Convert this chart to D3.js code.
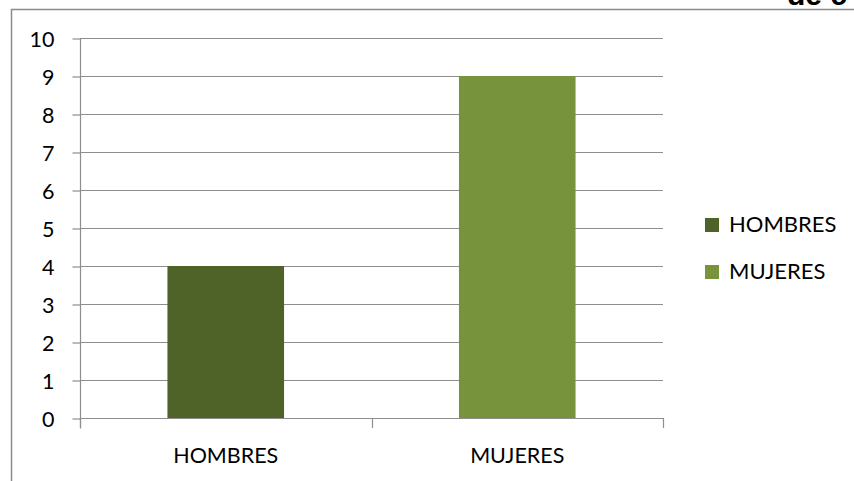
<!DOCTYPE html>
<html>
<head>
<meta charset="utf-8">
<script src="https://cdn.jsdelivr.net/npm/d3@7"></script>
<style>
  html, body { margin: 0; padding: 0; background: #fff; }
  svg { display: block; }
  text { font-family: Lato, "Open Sans", sans-serif; fill: #000; }
</style>
</head>
<body>
<svg id="chart" width="854" height="481"></svg>
<script>
const categories = ["HOMBRES", "MUJERES"];
const values = [4, 9];
const colors = ["#4F6228", "#77933C"];
const yTickValues = [0, 1, 2, 3, 4, 5, 6, 7, 8, 9, 10];
const headerFragment = "de c";

const svg = d3.select("#chart");
const W = 854, H = 481;
const plot = { left: 80, right: 663, top: 38, bottom: 418 };

// chart area border (left + top, rest cut off)
svg.append("path")
  .attr("d", `M11.5,${H} V9.5 H${W}`)
  .attr("fill", "none")
  .attr("stroke", "#8c8c8c")
  .attr("stroke-width", 1.5);

// cut-off header text (only its lower edge shows, as in the reference)
svg.append("text")
  .attr("x", 787).attr("y", 5)
  .style("font-family", "'Liberation Sans', Arial, sans-serif")
  .style("font-weight", "bold")
  .style("font-size", "30px")
  .text(headerFragment);

const x = d3.scaleBand().domain(categories).range([plot.left, plot.right]).padding(0);
const y = d3.scaleLinear().domain([0, 10]).range([plot.bottom, plot.top]);

// gridlines
svg.append("g").selectAll("line").data(yTickValues).join("line")
  .attr("x1", plot.left).attr("x2", plot.right)
  .attr("y1", d => Math.round(y(d)) + 0.5).attr("y2", d => Math.round(y(d)) + 0.5)
  .attr("stroke", "#8e8e8e").attr("stroke-width", 1.2);

// bars
const barW = x.bandwidth() * 0.4;
svg.append("g").selectAll("rect").data(categories).join("rect")
  .attr("x", d => x(d) + (x.bandwidth() - barW) / 2)
  .attr("width", barW)
  .attr("y", (d, i) => y(values[i]))
  .attr("height", (d, i) => y(0) - y(values[i]))
  .attr("fill", (d, i) => colors[i]);

// y axis
const yAxis = d3.axisLeft(y).tickValues(yTickValues).tickSize(8).tickPadding(18).tickFormat(d3.format("d"));
const gy = svg.append("g").attr("transform", `translate(${plot.left + 0.5},0.5)`).call(yAxis);
gy.select(".domain").attr("stroke", "#8e8e8e").attr("stroke-width", 1.2)
  .attr("d", `M0,${plot.top} V${plot.bottom + 10}`);
gy.selectAll(".tick line").attr("stroke", "#8e8e8e").attr("stroke-width", 1.2);
gy.selectAll(".tick text").style("font-size", "21.5px").style("font-family", "Lato, sans-serif").attr("dy", "0.36em").attr("fill", "#000");

// x axis
const xAxis = d3.axisBottom(x).tickSize(0).tickPadding(29);
const gx = svg.append("g").attr("transform", `translate(0,${plot.bottom + 0.5})`).call(xAxis);
gx.select(".domain").attr("stroke", "#8e8e8e").attr("stroke-width", 1.2)
  .attr("d", `M${plot.left},0 H${plot.right}`);
gx.selectAll(".tick text").style("font-size", "21.5px").style("font-family", "Lato, sans-serif").attr("fill", "#000");
// category boundary tick marks
const boundaries = categories.map(c => x(c)).concat([plot.right]);
svg.append("g").selectAll("line").data(boundaries).join("line")
  .attr("x1", d => Math.round(d) + 0.5).attr("x2", d => Math.round(d) + 0.5)
  .attr("y1", plot.bottom).attr("y2", plot.bottom + 10)
  .attr("stroke", "#8e8e8e").attr("stroke-width", 1.2);

// legend
const legend = svg.append("g");
const lg = legend.selectAll("g").data(categories).join("g")
  .attr("transform", (d, i) => `translate(705,${218 + i * 47})`);
lg.append("rect").attr("width", 14).attr("height", 14).attr("fill", (d, i) => colors[i]);
lg.append("text").attr("x", 24).attr("y", 13.5)
  .style("font-size", "22px").text(d => d);
</script>
</body>
</html>
